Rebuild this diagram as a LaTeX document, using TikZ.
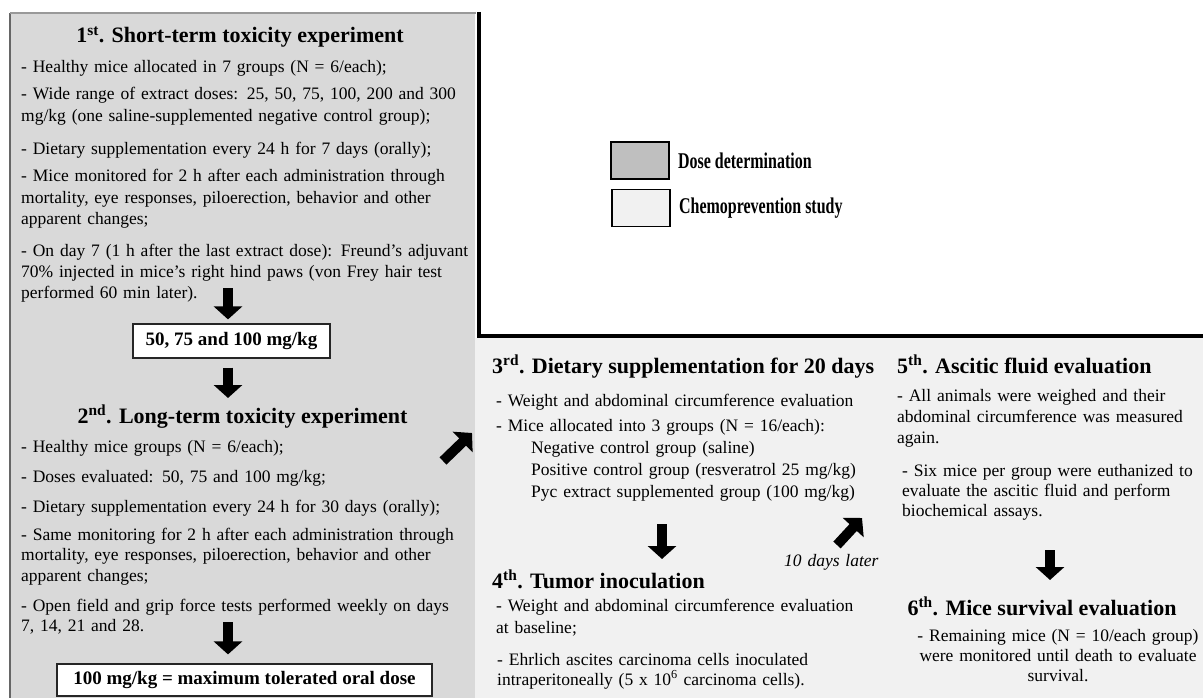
\documentclass[tikz,border=0pt]{standalone}
\usepackage{fontspec}
\setmainfont{Liberation Serif}
\usetikzlibrary{arrows.meta,positioning}
\definecolor{dosegray}{HTML}{D9D9D9}
\definecolor{studygray}{HTML}{F1F1F1}
\definecolor{keygray}{HTML}{BFBFBF}

\begin{document}
\begin{tikzpicture}[x=1pt, y=-1pt]
  \tikzset{
    para/.style={anchor=base west, inner sep=0, text width=500pt, align=left,
      font=\fontsize{17.5}{21.5}\selectfont},
    stagehead/.style={inner sep=0, font=\fontsize{22}{26}\selectfont\bfseries},
    dosebox/.style={draw=black!85, line width=1.2pt, fill=white, inner sep=0,
      font=\fontsize{19}{22}\selectfont\bfseries},
    keybox/.style={draw, line width=1.8pt, minimum width=58pt, minimum height=37pt, inner sep=0},
    keytext/.style={inner sep=0, font=\fontsize{22.5}{26}\selectfont\bfseries},
    fatarrow/.style={-{Triangle[width=28pt,length=13pt]}, line width=10pt},
  }
  \useasboundingbox (0,0) rectangle (1203,698);
  % panels
  \fill[white] (0,0) rectangle (1203,698);
  \fill[dosegray] (10,13) rectangle (475,698);
  \fill[studygray] (475,338) rectangle (1203,698);
  \draw[black!60, line width=2pt] (10,698) -- (10,13);
  \draw[black!40, line width=1.5pt] (10,13) -- (476,13);
  \draw[line width=4pt] (478.5,12) -- (478.5,336) -- (1203,336);

  % legend
  \node[keybox, fill=keygray] (keydose) at (640,160.5) {};
  \node[keybox, fill=studygray] (keystudy) at (641,208) {};
  \node[keytext, right=8pt of keydose] (keydosetxt) {\scalebox{0.71}[1]{Dose determination}};
  \node[keytext, right=8pt of keystudy] (keystudytxt) {\scalebox{0.71}[1]{Chemoprevention study}};

  % dose determination
  \node[stagehead, anchor=base] (head1) at (240,42.7) {1\textsuperscript{st}. Short-term toxicity experiment};
  \node[para] (p1a) at (21,72.5) {- Healthy mice allocated in 7 groups (N = 6/each);};
  \node[para] (p1b) at (21,100) {- Wide range of extract doses: 25, 50, 75, 100, 200 and 300\\
    mg/kg (one saline-supplemented negative control group);};
  \node[para] (p1c) at (21,155) {- Dietary supplementation every 24 h for 7 days (orally);};
  \node[para] (p1d) at (21,181.7) {- Mice monitored for 2 h after each administration through\\
    mortality, eye responses, piloerection, behavior and other\\
    apparent changes;};
  \node[para, font=\fontsize{17.5}{21}\selectfont] (p1e) at (21,256.7) {- On day 7 (1 h after the last extract dose): Freund's adjuvant\\
    70\% injected in mice's right hind paws (von Frey hair test\\
    performed 60 min later).};
  \node[dosebox, minimum width=197pt, minimum height=34pt] (dose1) at (231.5,341) {50, 75 and 100 mg/kg};
  \node[stagehead, anchor=base] (head2) at (242.5,423) {2\textsuperscript{nd}. Long-term toxicity experiment};
  \node[para] (p2a) at (21,452) {- Healthy mice groups (N = 6/each);};
  \node[para] (p2b) at (21,482) {- Doses evaluated: 50, 75 and 100 mg/kg;};
  \node[para] (p2c) at (21,512) {- Dietary supplementation every 24 h for 30 days (orally);};
  \node[para, font=\fontsize{17.5}{20.5}\selectfont] (p2d) at (21,540) {- Same monitoring for 2 h after each administration through\\
    mortality, eye responses, piloerection, behavior and other\\
    apparent changes;};
  \node[para, font=\fontsize{17.5}{20}\selectfont] (p2e) at (21,611.7) {- Open field and grip force tests performed weekly on days\\
    7, 14, 21 and 28.};
  \node[dosebox, minimum width=375pt, minimum height=32pt] (maxdose) at (244.5,680) {100 mg/kg = maximum tolerated oral dose};

  \coordinate (a1) at (228,288);
  \coordinate (a2) at (228,398);
  \coordinate (a3) at (228,622);
  \draw[fatarrow, shorten >=4pt] (a1) -- (a1 |- dose1.north);
  \draw[fatarrow, shorten <=9pt] (a1 |- dose1.south) -- (a2);
  \draw[fatarrow, shorten >=9pt] (a3) -- (a3 |- maxdose.north);
  \coordinate (d1) at (443,461);
  \coordinate (d2) at (472,433);
  \draw[fatarrow] (d1) -- (d2);

  % chemoprevention study
  \node[stagehead, anchor=base west] (head3) at (492,373) {3\textsuperscript{rd}. Dietary supplementation for 20 days};
  \node[para] (m1) at (496,406.7) {- Weight and abdominal circumference evaluation};
  \node[para] (m2) at (496,431.7) {- Mice allocated into 3 groups (N = 16/each):};
  \node[para, font=\fontsize{17.5}{22}\selectfont] (m3) at (531,453.3) {Negative control group (saline)\\
    Positive control group (resveratrol 25 mg/kg)\\
    Pyc extract supplemented group (100 mg/kg)};
  \coordinate (b1) at (662,524);
  \coordinate (b2) at (662,559);
  \draw[fatarrow] (b1) -- (b2);
  \coordinate (c1) at (837,545);
  \coordinate (c2) at (862,518);
  \draw[fatarrow] (c1) -- (c2);
  \node[para, font=\fontsize{17.5}{21}\selectfont\itshape] (later) at (784,566) {10 days later};
  \node[stagehead, anchor=base west] (head4) at (492,588) {4\textsuperscript{th}. Tumor inoculation};
  \node[para] (m4) at (496,611.7) {- Weight and abdominal circumference evaluation\\
    at baseline;};
  \node[para, font=\fontsize{17.5}{20}\selectfont] (m5) at (497,665) {- Ehrlich ascites carcinoma cells inoculated\\
    intraperitoneally (5 x 10\textsuperscript{6} carcinoma cells).};

  \node[stagehead, anchor=base west] (head5) at (897,373) {5\textsuperscript{th}. Ascitic fluid evaluation};
  \node[para, font=\fontsize{17.5}{20.8}\selectfont] (r1) at (897,401.7) {- All animals were weighed and their\\
    abdominal circumference was measured\\
    again.};
  \node[para, font=\fontsize{17.5}{20}\selectfont] (r2) at (902,476.7) {- Six mice per group were euthanized to\\
    evaluate the ascitic fluid and perform\\
    biochemical assays.};
  \coordinate (e1) at (1050,550);
  \coordinate (e2) at (1050,580);
  \draw[fatarrow] (e1) -- (e2);
  \node[stagehead, anchor=base] (head6) at (1042,615) {6\textsuperscript{th}. Mice survival evaluation};
  \node[para, anchor=base, text width=290pt, align=center, font=\fontsize{17.5}{20.2}\selectfont] (r3) at (1058,641) {- Remaining mice (N = 10/each group)\\
    were monitored until death to evaluate\\
    survival.};
\end{tikzpicture}
\end{document}
